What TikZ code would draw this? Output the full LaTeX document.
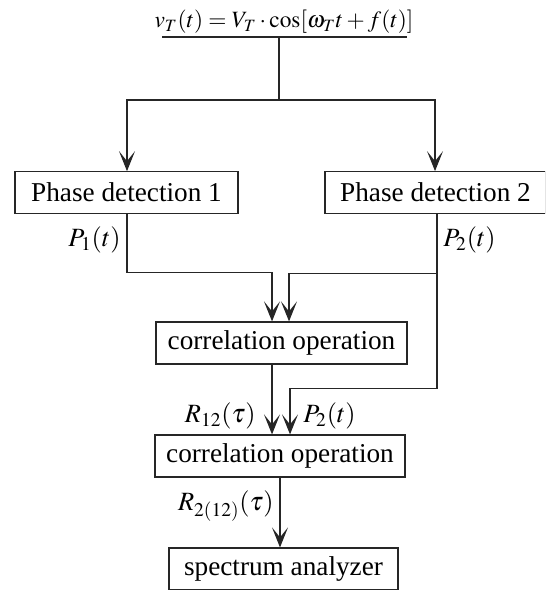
\documentclass[tikz,border=0pt]{standalone}
\usepackage{mathptmx}
\usepackage{fontspec}
\setmainfont{Liberation Serif}
\usepackage{tikz}
\usetikzlibrary{positioning,calc,arrows.meta}

\begin{document}
\begin{tikzpicture}[
        x=0.02cm, y=-0.02cm,
        font=\fontsize{15.5}{18}\selectfont,
        block/.style={draw=black!85, line width=0.7pt, minimum height=0.83cm, inner sep=0pt},
        signal/.style={font=\fontsize{15}{18}\selectfont, inner sep=0pt},
        wire/.style={line width=0.6pt, color=black!85},
        arrow/.style={wire, -{Stealth[length=0.4cm, width=0.32cm, inset=0.2cm]}}
    ]

    % --- page frame ---
    \useasboundingbox (0,0) rectangle (545,590);
    \clip (0,0) rectangle (545,589);

    % --- input signal ---
    \node[inner sep=0pt, font=\fontsize{13.3}{16}\selectfont] (src) at (284,22)
        {$v_T(t) = V_T\cdot\cos[\omega_T t + f(t)]$};
    \draw[wire] (162,37) coordinate (ulL) -- (407,37) coordinate (ulR);
    \coordinate (tap) at (279,37);

    % --- blocks ---
    \node[block, minimum width=4.46cm] (pd1) at (126.5,192.5) {Phase detection 1};
    \node[block, minimum width=4.42cm] (pd2) at (435.5,192.5) {Phase detection 2};
    \node[block, minimum width=5.02cm, minimum height=0.84cm] (co1) at (281.5,343) {correlation operation};
    \node[block, minimum width=5.0cm, minimum height=0.84cm] (co2) at (280,456) {correlation operation};
    \node[block, minimum width=4.58cm, minimum height=0.84cm] (sa) at (283.5,569) {spectrum analyzer};

    % --- splitting the input ---
    \coordinate (fork) at (279,100);
    \draw[wire] (tap) -- (fork);
    \draw[arrow] (fork) -| ($(pd1.north)+(0.5,0)$);
    \draw[arrow] (fork) -| ($(pd2.north)+(-0.5,0)$);

    % --- phase outputs into the first correlator ---
    \coordinate (in1a) at ($(co1.north)+(-9.5,0)$);
    \coordinate (in1b) at ($(co1.north)+(7.5,0)$);
    \draw[arrow] ($(pd1.south)+(0.5,0)$) |- ($(in1a)+(0,-49)$) -- (in1a);
    \coordinate (split2) at ($(pd2.south)+(1.5,60)$);
    \draw[wire] ($(pd2.south)+(1.5,0)$) -- (split2);
    \draw[arrow] (split2) -| (in1b);

    \node[signal, anchor=east] (p1) at (121,240) {$P_1(t)$};
    \node[signal, anchor=west] (p2a) at (443,240) {$P_2(t)$};

    % --- second correlator ---
    \coordinate (in2a) at ($(co2.north)+(-8,0)$);
    \coordinate (in2b) at ($(co2.north)+(10,0)$);
    \draw[arrow] (co1.south -| in2a) -- (in2a);
    \draw[arrow] (split2) -- ++(0,115) -| (in2b);

    \node[signal, anchor=east] (r12) at (256,416) {$R_{12}(\tau)$};
    \node[signal, anchor=west] (p2b) at (303,416) {$P_2(t)$};

    % --- to the analyzer ---
    \draw[arrow] (co2.south) -- (co2.south |- sa.north);
    \node[signal, anchor=east] (r212) at (274,506) {$R_{2(12)}(\tau)$};

\end{tikzpicture}
\end{document}
